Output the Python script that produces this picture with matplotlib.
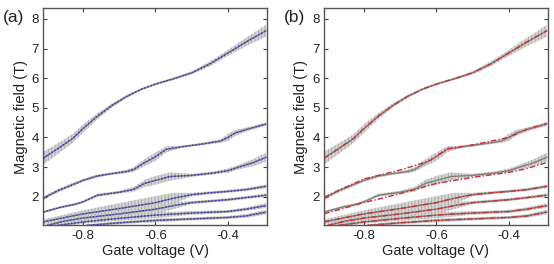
import numpy as np
import matplotlib
matplotlib.use("Agg")
from matplotlib import pyplot as plt

plt.rcParams['font.family'] = ['Liberation Sans', 'DejaVu Sans']
plt.rcParams['hatch.linewidth'] = 0.6

# ---------------- data (gate voltage V, field T, half error T)
x1 = [-0.91, -0.87, -0.83, -0.80, -0.76, -0.72, -0.68, -0.64, -0.60, -0.55, -0.50, -0.45, -0.40, -0.35, -0.295]
y1 = [3.30, 3.62, 3.95, 4.30, 4.72, 5.08, 5.38, 5.62, 5.80, 5.98, 6.18, 6.48, 6.85, 7.22, 7.60]
e1 = [0.22, 0.18, 0.15, 0.14, 0.10, 0.07, 0.05, 0.04, 0.04, 0.04, 0.05, 0.08, 0.10, 0.14, 0.20]

x2 = [-0.91, -0.87, -0.84, -0.80, -0.76, -0.72, -0.68, -0.66, -0.63, -0.60, -0.57, -0.53, -0.47, -0.42, -0.40, -0.38, -0.34, -0.295]
y2 = [1.95, 2.20, 2.35, 2.55, 2.70, 2.78, 2.85, 2.92, 3.15, 3.35, 3.60, 3.68, 3.78, 3.88, 4.00, 4.15, 4.30, 4.45]
e2 = [0.06, 0.06, 0.06, 0.05, 0.05, 0.04, 0.06, 0.08, 0.12, 0.14, 0.10, 0.04, 0.04, 0.06, 0.12, 0.10, 0.06, 0.06]

x3 = [-0.91, -0.86, -0.82, -0.80, -0.76, -0.70, -0.66, -0.63, -0.60, -0.56, -0.50, -0.44, -0.40, -0.37, -0.33, -0.295]
y3 = [1.48, 1.65, 1.75, 1.83, 2.05, 2.15, 2.25, 2.45, 2.55, 2.68, 2.72, 2.80, 2.88, 3.00, 3.15, 3.33]
e3 = [0.04, 0.04, 0.04, 0.04, 0.05, 0.05, 0.08, 0.12, 0.15, 0.14, 0.05, 0.05, 0.07, 0.08, 0.12, 0.15]

x4 = [-0.91, -0.85, -0.80, -0.70, -0.60, -0.55, -0.50, -0.45, -0.40, -0.35, -0.295]
y4 = [1.15, 1.30, 1.42, 1.60, 1.80, 1.95, 2.07, 2.13, 2.18, 2.24, 2.35]
e4 = [0.08, 0.10, 0.12, 0.18, 0.22, 0.18, 0.06, 0.05, 0.05, 0.05, 0.06]

x5 = [-0.90, -0.85, -0.80, -0.70, -0.60, -0.55, -0.50, -0.40, -0.35, -0.295]
y5 = [1.03, 1.18, 1.28, 1.42, 1.58, 1.70, 1.80, 1.90, 1.97, 2.05]
e5 = [0.06, 0.08, 0.10, 0.14, 0.16, 0.12, 0.05, 0.05, 0.05, 0.06]

x6 = [-0.87, -0.80, -0.70, -0.60, -0.50, -0.40, -0.35, -0.295]
y6 = [1.03, 1.15, 1.27, 1.38, 1.45, 1.50, 1.58, 1.70]
e6 = [0.05, 0.06, 0.08, 0.10, 0.06, 0.05, 0.06, 0.08]

x7 = [-0.79, -0.70, -0.60, -0.50, -0.40, -0.35, -0.295]
y7 = [1.03, 1.12, 1.20, 1.25, 1.30, 1.35, 1.48]
e7 = [0.04, 0.05, 0.06, 0.05, 0.05, 0.06, 0.08]

# fit of panel (b) where it departs from the data
fx2_b = [-0.91, -0.80, -0.70, -0.62, -0.57, -0.50, -0.40, -0.35, -0.295]
fy2_b = [1.98, 2.60, 2.90, 3.20, 3.62, 3.75, 4.00, 4.28, 4.48]
fx3_b = [-0.91, -0.80, -0.70, -0.60, -0.50, -0.40, -0.35, -0.295]
fy3_b = [1.42, 1.80, 2.10, 2.45, 2.65, 2.82, 2.95, 3.15]

data = [(x1, y1, e1), (x2, y2, e2), (x3, y3, e3), (x4, y4, e4),
        (x5, y5, e5), (x6, y6, e6), (x7, y7, e7)]

xticks = [-0.8, -0.6, -0.4]
yticks = [2, 3, 4, 5, 6, 7, 8]

fig = plt.figure(figsize=(5.54, 2.64), dpi=100)
ax_a = fig.add_axes([0.078, 0.146, 0.404, 0.824])
ax_b = fig.add_axes([0.585, 0.146, 0.404, 0.824])


def draw_data(ax):
    for x, y, e in data:
        x = np.array(x); y = np.array(y); e = np.array(e)
        ax.fill_between(x, y - e, y + e, facecolor='#d4d4d4', edgecolor='#a8a8a8',
                        hatch='|||||', linewidth=0, zorder=1)
        ax.plot(x, y, color='#808080', lw=1.0, zorder=2)


def style(ax, label):
    ax.set_xlim(-0.91, -0.292)
    ax.set_ylim(1.03, 8.37)
    ax.set_xticks(xticks)
    ax.set_xticklabels(['-0.8', '-0.6', '-0.4'])
    ax.set_yticks(yticks)
    ax.tick_params(direction='in', top=True, right=True, length=3, width=0.8,
                   color='#444444', labelsize=9.5, labelcolor='#222222', pad=3)
    for s in ax.spines.values():
        s.set_color('#555555')
        s.set_linewidth(1.0)
    ax.set_xlabel('Gate voltage (V)', fontsize=10.5, color='#222222', labelpad=2)
    ax.set_ylabel('Magnetic field (T)', fontsize=10.5, color='#222222', labelpad=3)
    ax.text(-0.18, 0.99, label, transform=ax.transAxes, fontsize=12.5,
            color='#222222', va='top', ha='left')


# panel (a): data + dotted blue fit
draw_data(ax_a)
for x, y, e in data:
    ax_a.plot(x, y, color='#3a3ac0', lw=1.0, ls=(0, (1.2, 1.2)), zorder=3)
style(ax_a, '(a)')

# panel (b): data + dash-dot red fit
draw_data(ax_b)
fits_b = [(x1, y1), (fx2_b, fy2_b), (fx3_b, fy3_b), (x4, y4), (x5, y5), (x6, y6), (x7, y7)]
for x, y in fits_b:
    ax_b.plot(x, y, color='#cc3030', lw=1.0, ls=(0, (4, 1.5, 1, 1.5)), zorder=3)
style(ax_b, '(b)')

fig.savefig('out.png', dpi=100)
